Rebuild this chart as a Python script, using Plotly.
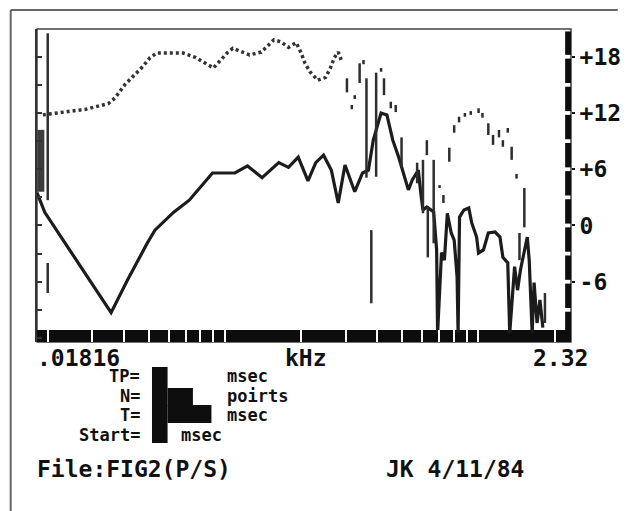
# plot.py
# Rebuilds the scanned 1984 spectrum plot (File:FIG2(P/S)) with Plotly

import plotly.graph_objects as go

# ══════════════════════════════════════════
# DATA (kHz, dB)
# ══════════════════════════════════════════
# solid lower curve
solid_khz = [0.01816, 0.01949, 0.0356, 0.04137, 0.0494, 0.0530, 0.0627, 0.0724,
             0.0894, 0.1096, 0.1229, 0.1403, 0.1632, 0.1782, 0.1948, 0.2128,
             0.2284, 0.2452, 0.2632, 0.2801, 0.2979, 0.3254, 0.3493, 0.3684,
             0.3851, 0.4134, 0.4359, 0.4597, 0.4848, 0.5068, 0.5297, 0.5488,
             0.5798, 0.5941, 0.6048, 0.6265, 0.6667, 0.6846, 0.6907, 0.7156,
             0.7348, 0.7546, 0.7818, 0.8029, 0.8245, 0.8319, 0.8430, 0.8773,
             0.9168, 0.9418, 0.9843, 1.0019, 1.0474, 1.0948, 1.1643, 1.2170,
             1.2498, 1.3064, 1.3297, 1.3899, 1.4276, 1.4658, 1.5186, 1.5596,
             1.5874, 1.6302, 1.6594, 1.7044, 1.7498, 1.797]
solid_db = [3.5, 1.4, -9.3, -5.8, -1.9, -0.5, 1.4, 2.7,
            5.6, 5.6, 6.35, 5.1, 6.7, 6.2, 7.3, 4.75,
            6.7, 7.5, 5.9, 2.4, 6.45, 3.6, 5.6, 5.9,
            9.1, 12.0, 11.8, 9.1, 7.3, 5.6, 3.8, 4.85,
            5.9, 3.25, 1.65, 1.97, 1.44, -2.6, -11.5, -2.9,
            -3.7, 1.3, -0.8, -1.55, -5.5, -11.5, 0.9, 1.65,
            1.87, 0.27, -1.23, -2.93, -2.6, -0.8, -0.7, -1.23,
            -3.4, -4.0, -11.5, -4.4, -6.9, -4.75, -2.6, -1.23,
            -3.7, -11.5, -6.1, -10.4, -7.95, -10.9]

# dotted upper curve (continuous part)
dotted_khz = [0.01915, 0.02286, 0.02828, 0.03467, 0.03687, 0.04028, 0.04401,
              0.04725, 0.05072, 0.05396, 0.06854, 0.07688, 0.09015, 0.09593,
              0.1030, 0.1076, 0.1166, 0.1251, 0.1392, 0.1453, 0.1561, 0.1661,
              0.1783, 0.1913, 0.2000, 0.2072, 0.2166, 0.2325, 0.2496, 0.2609,
              0.2703, 0.2801, 0.2902]
dotted_db = [11.8, 12.1, 12.4, 13.0, 13.6, 15.0, 16.05,
             16.9, 17.9, 18.4, 18.4, 17.9, 16.8, 17.65,
             18.5, 18.9, 18.5, 18.2, 18.5, 19.0, 19.8, 19.6,
             19.0, 19.5, 18.4, 17.3, 16.4, 15.5, 15.8, 16.8,
             17.9, 18.5, 17.4]

# broken strokes (upper curve break-up and stray verticals): freq, top, bottom
stroke_khz = [0.02002, 0.02002, 0.3032, 0.3169, 0.3254, 0.3402, 0.3524, 0.3620,
              0.3953, 0.3783, 0.4134, 0.4245, 0.4515, 0.4722, 0.4979, 0.5736,
              0.6048, 0.6320, 0.6265, 0.6667, 0.7030, 0.7283, 0.7681, 0.8029,
              0.8393, 0.8851, 0.9333, 1.0019, 1.0381, 1.0948, 1.1428, 1.2063,
              1.2498, 1.3064, 1.3534, 1.4149, 1.5186, 1.4530, 1.8311]
stroke_top = [20.5, -4.0, 15.7, 12.85, 13.9, 17.3, 17.65, 15.7,
              16.3, -0.5, 16.8, 15.7, 13.2, 12.85, 9.4, 6.7,
              7.0, 2.0, 9.1, 7.0, 4.3, 3.25, 8.3, 10.7,
              11.6, 12.0, 12.2, 12.5, 12.0, 10.9, 9.65, 10.2,
              9.1, 10.4, 8.4, 5.5, 4.0, -0.8, -7.2]
stroke_bot = [2.7, -7.2, 14.2, 12.4, 13.5, 15.2, 17.2, 5.1,
              5.2, -8.3, 16.4, 13.9, 12.5, 12.1, 6.2, 4.5,
              1.3, -3.4, 7.5, -1.9, 4.0, 2.4, 6.8, 9.9,
              11.0, 11.6, 11.8, 12.0, 11.5, 9.65, 8.6, 9.4,
              8.4, 9.9, 7.0, 5.0, -0.2, -3.7, -10.4]

# dark smear hugging the left axis
smear_khz = [0.01881, 0.01881]
smear_db = [10.2, 3.6]

# axis ticks
x_ticks = [0.02, 0.03, 0.04, 0.05, 0.06, 0.07, 0.08, 0.09,
           0.1, 0.2, 0.3, 0.4, 0.5, 0.6, 0.7, 0.8, 0.9, 1, 2]
y_labels = [-6, 0, 6, 12, 18]
y_text = ['-6', '0', '+6', '+12', '+18']
bar_levels = [-12, -9, -6, -3, 0, 3, 6, 9, 12, 15, 18, 21]

# plot area in window pixels
PX_L, PX_R, PX_T, PX_B = 37, 585, 29, 342
Y_RANGE = [-12.43, 20.96]
INK = '#1c1c1c'
FONT = dict(family='DejaVu Sans Mono', size=23, color='#111', weight='bold')
FONT_SMALL = dict(family='DejaVu Sans Mono', size=17, color='#111', weight='bold')


def px_x(x):
    return (x - PX_L) / (PX_R - PX_L)


def px_y(y):
    return (PX_B - y) / (PX_B - PX_T)


# strokes -> one trace with gaps
sx, sy = [], []
for f, t, b in zip(stroke_khz, stroke_top, stroke_bot):
    sx += [f, f, None]
    sy += [t, b, None]

fig = go.Figure()

fig.add_trace(go.Scatter(
    x=dotted_khz, y=dotted_db, mode='lines',
    line=dict(color='#333', width=3.5, dash='3px,3px'),
    hoverinfo='skip'
))
fig.add_trace(go.Scatter(
    x=sx, y=sy, mode='lines', yaxis='y2',
    line=dict(color='#2e2e2e', width=2.5),
    hoverinfo='skip'
))
fig.add_trace(go.Scatter(
    x=smear_khz, y=smear_db, mode='lines',
    line=dict(color='#3c3c3c', width=7),
    hoverinfo='skip'
))
fig.add_trace(go.Scatter(
    x=solid_khz, y=solid_db, mode='lines',
    line=dict(color=INK, width=3.2),
    hoverinfo='skip'
))

shapes = []
# outer page frame
shapes.append(dict(type='line', xref='paper', yref='paper',
                   x0=px_x(10), x1=px_x(633), y0=px_y(10), y1=px_y(10),
                   line=dict(color='#666', width=2)))
shapes.append(dict(type='line', xref='paper', yref='paper',
                   x0=px_x(10), x1=px_x(10), y0=px_y(10), y1=px_y(511),
                   line=dict(color='#666', width=2)))
# inner plot box
shapes.append(dict(type='rect', xref='paper', yref='paper',
                   x0=0, x1=1, y0=0, y1=1, layer='below',
                   line=dict(color='#444', width=1.5)))
# thick bottom band (white gaps come from the x ticks)
shapes.append(dict(type='rect', xref='paper', yref='paper',
                   x0=0, x1=1, y0=0, y1=px_y(330), layer='below',
                   fillcolor='#0d0d0d', line=dict(width=0)))
# dashed right-hand bar
for a, b in zip(bar_levels[:-1], bar_levels[1:]):
    shapes.append(dict(type='rect', xref='paper', yref='y',
                       x0=px_x(579), x1=1, y0=a + 0.2, y1=min(b - 0.2, 20.7),
                       fillcolor='#0d0d0d', line=dict(width=0)))
# blotted-out parameter values
for x0, x1, y0, y1 in [(155, 171, 367, 443), (171, 197, 388, 406), (171, 216, 405, 423)]:
    shapes.append(dict(type='rect', xref='paper', yref='paper',
                       x0=px_x(x0), x1=px_x(x1), y0=px_y(y1), y1=px_y(y0),
                       fillcolor='#0e0e0e', line=dict(width=0)))

# captions under the plot
texts = [
    ('.01816', 36, 358, 'left', FONT),
    ('kHz', 290, 358, 'left', FONT),
    ('2.32', 545, 358, 'left', FONT),
    ('TP=', 144, 376, 'right', FONT_SMALL),
    ('msec', 231, 376, 'left', FONT_SMALL),
    ('N=', 144, 395.5, 'right', FONT_SMALL),
    ('poirts', 231, 395.5, 'left', FONT_SMALL),
    ('T=', 144, 415, 'right', FONT_SMALL),
    ('msec', 231, 415, 'left', FONT_SMALL),
    ('Start=', 144, 434.5, 'right', FONT_SMALL),
    ('msec', 184, 434.5, 'left', FONT_SMALL),
    ('File:FIG2(P/S)', 36, 469, 'left', FONT),
    ('JK 4/11/84', 394, 469, 'left', FONT),
]
annotations = [dict(text=t, x=px_x(x), y=px_y(y), xref='paper', yref='paper',
                    xanchor=anc, yanchor='middle', showarrow=False, font=fnt,
                    borderpad=0)
               for t, x, y, anc, fnt in texts]

fig.update_layout(
    width=633, height=511,
    margin=dict(l=PX_L, r=633 - PX_R, t=PX_T, b=511 - PX_B),
    paper_bgcolor='white', plot_bgcolor='white',
    showlegend=False,
    shapes=shapes,
    annotations=annotations,
    xaxis=dict(
        type='log', range=[-1.74084, 0.36549],
        tickvals=x_ticks, ticks='inside', ticklen=12, tickwidth=2,
        tickcolor='white', showticklabels=False,
        showgrid=False, zeroline=False, showline=False
    ),
    yaxis=dict(
        range=Y_RANGE, side='left', dtick=3, tick0=0,
        ticks='inside', ticklen=5, tickwidth=1.5, tickcolor='#333',
        showticklabels=False, showgrid=False, zeroline=False,
        showline=True, linecolor='#333', linewidth=1.5
    ),
    yaxis2=dict(
        range=Y_RANGE, overlaying='y', side='right',
        tickvals=y_labels, ticktext=y_text,
        ticks='outside', ticklen=3, tickwidth=2, tickcolor='#111',
        tickfont=FONT, showgrid=False, zeroline=False, showline=False
    ),
)

# page has a default 8px body margin; drop it so the figure sits at 0,0
fig.write_html('out.html', config={'displayModeBar': False},
               post_script="document.body.style.margin='0';")
